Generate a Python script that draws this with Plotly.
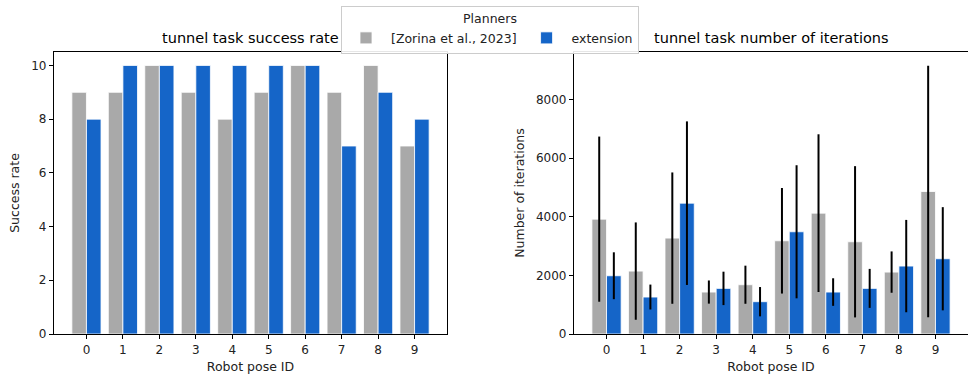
import plotly.graph_objects as go

pose_ids = [0, 1, 2, 3, 4, 5, 6, 7, 8, 9]
tick_labels = ["0", "1", "2", "3", "4", "5", "6", "7", "8", "9"]
series_names = ["[Zorina et al., 2023]", "extension"]

success_baseline = [9, 9, 10, 9, 8, 9, 10, 9, 10, 7]
success_extension = [8, 10, 10, 10, 10, 10, 10, 7, 9, 8]

iters_baseline = [3918, 2146, 3271, 1431, 1681, 3180, 4123, 3146, 2112, 4861]
iters_baseline_std = [2817, 1660, 2240, 395, 650, 1800, 2690, 2580, 705, 4290]
iters_extension = [1987, 1261, 4463, 1556, 1102, 3487, 1431, 1556, 2317, 2567]
iters_extension_std = [800, 425, 2790, 570, 500, 2270, 470, 665, 1575, 1760]

GRAY = "#a9a9a9"
BLUE = "#1565c8"
W = 0.4
FONT = "DejaVu Sans"

xb = [p - W / 2 for p in pose_ids]
xe = [p + W / 2 for p in pose_ids]

fig = go.Figure()
edge = dict(color="rgba(255,255,255,0.8)", width=1)

fig.add_trace(go.Bar(x=xb, y=success_baseline, width=W, marker=dict(color=GRAY, line=edge),
                     name=series_names[0], legendgroup="a", xaxis="x", yaxis="y"))
fig.add_trace(go.Bar(x=xe, y=success_extension, width=W, marker=dict(color=BLUE, line=edge),
                     name=series_names[1], legendgroup="b", xaxis="x", yaxis="y"))
fig.add_trace(go.Bar(x=xb, y=iters_baseline, width=W, marker=dict(color=GRAY, line=edge),
                     error_y=dict(type="data", array=iters_baseline_std, color="black", thickness=2, width=0),
                     name=series_names[0], legendgroup="a", showlegend=False, xaxis="x2", yaxis="y2"))
fig.add_trace(go.Bar(x=xe, y=iters_extension, width=W, marker=dict(color=BLUE, line=edge),
                     error_y=dict(type="data", array=iters_extension_std, color="black", thickness=2, width=0),
                     name=series_names[1], legendgroup="b", showlegend=False, xaxis="x2", yaxis="y2"))

FW, FH = 968, 374
def px(v):
    return v / FW
def py(v):
    return (FH - v) / FH

axis_common = dict(showgrid=False, zeroline=False, showline=True, linecolor="black", linewidth=1.2,
                   ticks="outside", ticklen=4, tickcolor="black", automargin=False,
                   tickfont=dict(family=FONT, size=12, color="#222"))

fig.update_layout(
    width=FW, height=FH,
    margin=dict(l=0, r=0, t=0, b=0, autoexpand=False),
    plot_bgcolor="white", paper_bgcolor="white",
    barmode="overlay",
    font=dict(family=FONT, color="#222"),
    xaxis=dict(domain=[px(54), px(447)], anchor="y", range=[-0.89, 9.89], mirror=True,
               tickmode="array", tickvals=pose_ids, ticktext=tick_labels,
               title=dict(text="Robot pose ID", font=dict(family=FONT, size=12.5), standoff=6), **axis_common),
    yaxis=dict(domain=[py(334), py(52)], anchor="x", range=[0, 10.5], mirror=True,
               tickmode="array", tickvals=[0, 2, 4, 6, 8, 10],
               title=dict(text="Success rate", font=dict(family=FONT, size=12.5), standoff=8), **axis_common),
    xaxis2=dict(domain=[px(574), px(968)], anchor="y2", range=[-0.89, 9.89], mirror=True,
                tickmode="array", tickvals=pose_ids, ticktext=tick_labels,
                title=dict(text="Robot pose ID", font=dict(family=FONT, size=12.5), standoff=6), **axis_common),
    yaxis2=dict(domain=[py(334), py(52)], anchor="x2", range=[0, 9620], mirror=False,
                tickmode="array", tickvals=[0, 2000, 4000, 6000, 8000],
                title=dict(text="Number of iterations", font=dict(family=FONT, size=12.5), standoff=8), **axis_common),
    legend=dict(orientation="h", x=px(490), xanchor="center", y=py(6), yanchor="top",
                bordercolor="#cccccc", borderwidth=1, bgcolor="rgba(255,255,255,0.9)",
                title=dict(text="Planners", side="top center", font=dict(family=FONT, size=12.5)),
                font=dict(family=FONT, size=12.5), itemwidth=40, entrywidth=0),
    annotations=[
        dict(text="tunnel task success rate", x=px(250.5), y=py(38), xref="paper", yref="paper",
             xanchor="center", yanchor="middle", showarrow=False, font=dict(family=FONT, size=14.5, color="black")),
        dict(text="tunnel task number of iterations", x=px(771), y=py(38), xref="paper", yref="paper",
             xanchor="center", yanchor="middle", showarrow=False, font=dict(family=FONT, size=14.5, color="black")),
    ],
)

fig.write_html("out.html")
